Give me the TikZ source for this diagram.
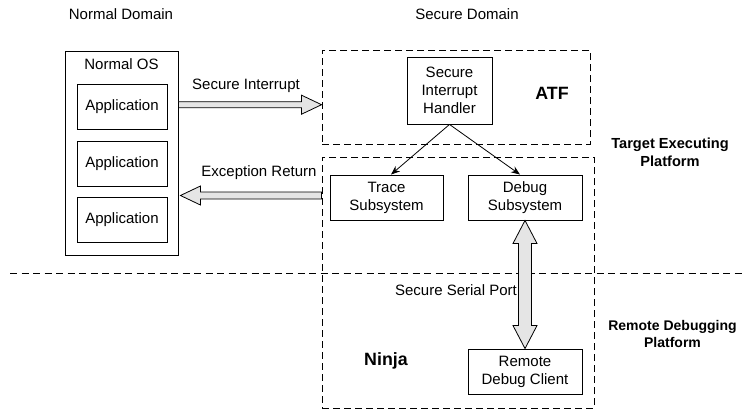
\documentclass[tikz,border=0pt]{standalone}
\usepackage{fontspec}
\setmainfont{Liberation Sans}
\usetikzlibrary{arrows.meta,calc}
\begin{document}
\begin{tikzpicture}[x=1pt,y=-1pt,
  every node/.style={font=\fontsize{15}{17.8}\selectfont, align=center},
  box/.style={draw, line width=0.9pt, inner sep=0pt},
  zone/.style={draw, line width=0.9pt, inner sep=0pt, dash pattern=on 7pt off 4pt},
  tag/.style={font=\fontsize{17.8}{20}\selectfont\bfseries},
  side/.style={font=\fontsize{14.6}{18}\selectfont\bfseries},
  thin arrow/.style={line width=0.8pt, -{Stealth[length=9pt,width=7pt]}},
  block/.style={draw, line width=0.8pt, fill=black!10, line join=miter}
]
\useasboundingbox (0,0) rectangle (743,410);

% domain headings
\node (nd) at (121,14) {Normal Domain};
\node (sd) at (467,14) {Secure Domain};

% normal world
\node[box, minimum width=113pt, minimum height=204pt] (os) at (121.5,153) {};
\node (ostitle) at (121.5,64) {Normal OS};
\node[box, minimum width=90pt, minimum height=45pt] (app1) at (122,106.5) {Application};
\node[box, minimum width=90pt, minimum height=45pt] (app2) at (122,163.5) {Application};
\node[box, minimum width=90pt, minimum height=45pt] (app3) at (122,220) {Application};

% secure world zones
\node[zone, minimum width=268pt, minimum height=94pt] (atf) at (456,97) {};
\node[zone, minimum width=272pt, minimum height=251pt] (ninja) at (458,282.5) {};
\node[tag] (atflabel) at (552,93) {ATF};
\node[tag] (ninjalabel) at (386,361) {Ninja};

% secure components
\node[box, minimum width=85pt, minimum height=67pt] (handler) at (449.5,90.5) {Secure\\Interrupt\\Handler};
\node[box, minimum width=113pt, minimum height=45pt] (trace) at (386.5,197.5) {Trace\\Subsystem};
\node[box, minimum width=114pt, minimum height=45pt] (debug) at (525,197.5) {Debug\\Subsystem};
\node[box, minimum width=114pt, minimum height=45pt] (remote) at (525,371.5) {Remote\\Debug Client};

% platform split
\draw[line width=0.9pt, dash pattern=on 7pt off 4.5pt] (10,273) -- (743,273);
\node[side] (tep) at (670,152) {Target Executing\\Platform};
\node[side, font=\fontsize{14}{17.7}\selectfont\bfseries] (rdp) at (672.5,334) {Remote Debugging\\Platform};

% handler dispatch
\draw[thin arrow] (handler.south) -- ([xshift=4.5pt]trace.north);
\draw[thin arrow] (handler.south) -- ([xshift=-5pt]debug.north);

% secure interrupt (normal -> secure)
\coordinate (siy) at (0,104.7);
\path (os.east |- siy) coordinate (siA) (atf.west |- siy) coordinate (siB);
\draw[block] ($(siA)+(0,-3)$) -- ($(siB)+(-20,-3)$) -- ($(siB)+(-20,-9.5)$) -- (siB)
  -- ($(siB)+(-20,9.5)$) -- ($(siB)+(-20,3)$) -- ($(siA)+(0,3)$) -- cycle;
\node (silabel) at (246,86) {Secure Interrupt};

% exception return (secure -> normal)
\coordinate (ery) at (0,195.5);
\path (ninja.west |- ery) coordinate (erA) ([xshift=2pt]os.east |- ery) coordinate (erB);
\draw[block] ($(erA)+(0,-3.5)$) -- ($(erB)+(20,-3.5)$) -- ($(erB)+(20,-9.5)$) -- (erB)
  -- ($(erB)+(20,9.5)$) -- ($(erB)+(20,3.5)$) -- ($(erA)+(0,3.5)$) -- cycle;
\node (erlabel) at (259,173) {Exception Return};

% secure serial port link
\path (debug.south) coordinate (spA) (remote.north) coordinate (spB);
\draw[block] (spA) -- ($(spA)+(12,23)$) -- ($(spA)+(6.5,23)$) -- ($(spB)+(6.5,-23)$)
  -- ($(spB)+(12,-23)$) -- (spB) -- ($(spB)+(-12,-23)$) -- ($(spB)+(-6.5,-23)$)
  -- ($(spA)+(-6.5,23)$) -- ($(spA)+(-12,23)$) -- cycle;
\node (splabel) at (456,290) {Secure Serial Port};
\end{tikzpicture}
\end{document}
